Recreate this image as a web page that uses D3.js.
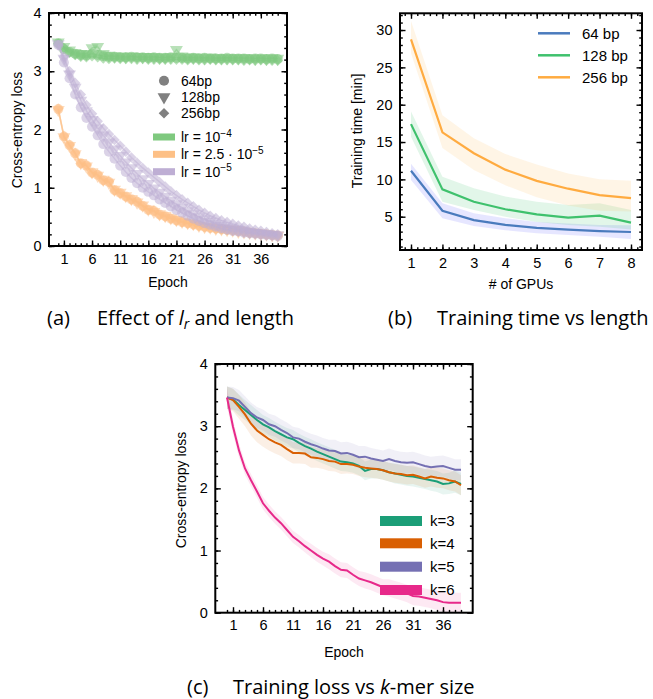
<!DOCTYPE html>
<html><head><meta charset="utf-8">
<script src="https://cdn.jsdelivr.net/npm/d3@7"></script>
<style>
body{margin:0;background:#fff}
svg text{font-family:"Liberation Sans",Arial,sans-serif;fill:#000}
.cap{font-family:"Open Sans",sans-serif !important}
</style>
</head><body>
<svg id="c" width="653" height="699"></svg>
<script>
// ---------- DATA ----------
const epochs = d3.range(40);
const epochTicks = [1,6,11,16,21,26,31,36];
const lossTicks = [0,1,2,3,4];

// Panel (a): lr x length
const a_green_64  = [3.48,3.38,3.33,3.30,3.28,3.27,3.30,3.28,3.26,3.25,3.25,3.24,3.24,3.25,3.24,3.24,3.23,3.24,3.23,3.23,3.24,3.23,3.23,3.22,3.23,3.22,3.23,3.22,3.22,3.22,3.23,3.22,3.22,3.22,3.21,3.22,3.22,3.21,3.22,3.21];
const a_green_128 = [3.50,3.42,3.36,3.32,3.30,3.30,3.40,3.42,3.30,3.27,3.26,3.26,3.25,3.26,3.25,3.25,3.25,3.25,3.24,3.24,3.25,3.37,3.26,3.24,3.24,3.24,3.23,3.24,3.23,3.23,3.23,3.23,3.23,3.23,3.23,3.22,3.23,3.22,3.23,3.22];
const a_green_256 = [3.47,3.40,3.32,3.28,3.25,3.24,3.26,3.24,3.22,3.21,3.22,3.21,3.21,3.21,3.20,3.21,3.20,3.20,3.20,3.20,3.20,3.20,3.20,3.19,3.20,3.19,3.19,3.20,3.19,3.19,3.19,3.19,3.19,3.18,3.19,3.18,3.19,3.18,3.18,3.18];
const a_orange_64  = [2.35,1.88,1.73,1.59,1.42,1.38,1.26,1.22,1.13,1.10,0.96,0.91,0.85,0.80,0.76,0.69,0.62,0.60,0.54,0.51,0.47,0.44,0.41,0.39,0.37,0.35,0.33,0.31,0.30,0.29,0.28,0.27,0.26,0.25,0.23,0.22,0.21,0.20,0.19,0.18];
const a_orange_128 = [2.34,1.87,1.72,1.58,1.43,1.37,1.27,1.21,1.14,1.09,0.97,0.92,0.86,0.81,0.75,0.70,0.63,0.59,0.55,0.52,0.48,0.45,0.42,0.40,0.38,0.35,0.33,0.32,0.30,0.29,0.28,0.27,0.25,0.24,0.23,0.22,0.21,0.20,0.19,0.18];
const a_orange_256 = [2.36,1.89,1.74,1.60,1.41,1.39,1.25,1.23,1.12,1.11,0.95,0.90,0.84,0.79,0.77,0.68,0.62,0.61,0.53,0.50,0.47,0.43,0.41,0.38,0.36,0.34,0.32,0.31,0.29,0.28,0.27,0.26,0.25,0.24,0.22,0.21,0.20,0.19,0.18,0.17];
const a_purple_64  = [3.45,3.15,2.88,2.60,2.38,2.20,2.05,1.90,1.75,1.62,1.50,1.38,1.27,1.17,1.08,1.00,0.93,0.87,0.80,0.74,0.68,0.62,0.57,0.52,0.47,0.43,0.39,0.36,0.33,0.30,0.28,0.26,0.25,0.23,0.22,0.21,0.20,0.19,0.18,0.17];
const a_purple_128 = [3.47,3.22,2.95,2.72,2.50,2.32,2.17,2.02,1.90,1.78,1.66,1.55,1.44,1.34,1.24,1.15,1.07,0.99,0.92,0.85,0.78,0.72,0.66,0.60,0.55,0.50,0.46,0.42,0.38,0.35,0.32,0.30,0.28,0.26,0.24,0.23,0.22,0.21,0.20,0.19];
const a_purple_256 = [3.45,3.25,3.00,2.80,2.60,2.42,2.27,2.14,2.02,1.92,1.82,1.72,1.62,1.52,1.43,1.34,1.26,1.18,1.10,1.02,0.94,0.87,0.80,0.74,0.68,0.62,0.57,0.52,0.48,0.44,0.41,0.38,0.35,0.33,0.30,0.28,0.26,0.24,0.22,0.20];

// Panel (b): training time vs #GPUs
const gpus = [1,2,3,4,5,6,7,8];
const gpuTicks = [1,2,3,4,5,6,7,8];
const timeTicks = [5,10,15,20,25,30];
const b_64     = [11.16,5.80,4.55,3.90,3.50,3.26,3.08,2.95];
const b_64_lo  = [9.90,4.80,3.75,3.20,2.80,2.55,2.30,2.00];
const b_64_hi  = [12.10,6.80,5.45,4.80,4.30,4.10,3.90,3.85];
const b_128    = [17.40,8.66,7.00,6.00,5.30,4.87,5.13,4.20];
const b_128_lo = [15.70,7.00,5.90,5.00,4.30,3.90,3.65,3.30];
const b_128_hi = [19.10,10.35,8.80,7.70,7.00,6.56,6.80,5.90];
const b_256    = [28.75,16.30,13.50,11.30,9.80,8.75,7.90,7.50];
const b_256_lo = [26.90,14.20,11.25,9.20,7.60,6.50,5.80,5.70];
const b_256_hi = [31.20,18.60,15.50,13.40,12.00,10.80,10.00,9.80];

// Panel (c): k-mer size
const c_k3 = [3.46,3.43,3.34,3.26,3.18,3.10,3.03,2.98,2.92,2.87,2.82,2.79,2.73,2.68,2.64,2.59,2.55,2.51,2.47,2.43,2.42,2.40,2.36,2.28,2.31,2.31,2.29,2.26,2.24,2.22,2.20,2.19,2.17,2.15,2.13,2.11,2.07,2.08,2.11,2.07];
const c_k4 = [3.46,3.42,3.31,3.19,3.04,2.93,2.86,2.79,2.74,2.70,2.63,2.57,2.57,2.56,2.50,2.49,2.47,2.44,2.43,2.39,2.39,2.38,2.35,2.33,2.32,2.31,2.29,2.26,2.24,2.23,2.21,2.22,2.19,2.16,2.19,2.17,2.16,2.13,2.11,2.05];
const c_k5 = [3.46,3.45,3.41,3.31,3.21,3.14,3.10,3.03,3.00,2.94,2.89,2.82,2.80,2.75,2.71,2.68,2.64,2.61,2.60,2.56,2.57,2.54,2.50,2.51,2.48,2.46,2.44,2.47,2.44,2.42,2.41,2.42,2.39,2.36,2.34,2.35,2.36,2.33,2.30,2.30];
const c_k6 = [3.46,2.99,2.61,2.32,2.13,1.95,1.76,1.64,1.53,1.44,1.33,1.22,1.15,1.07,1.00,0.93,0.87,0.82,0.75,0.69,0.68,0.61,0.55,0.52,0.49,0.45,0.41,0.40,0.37,0.34,0.31,0.27,0.26,0.24,0.22,0.20,0.17,0.16,0.16,0.16];
const c_k3_sd = [0.18,0.17,0.17,0.16,0.16,0.16,0.15,0.15,0.15,0.15,0.15,0.15,0.15,0.15,0.15,0.15,0.15,0.15,0.15,0.15,0.15,0.15,0.15,0.15,0.15,0.15,0.15,0.15,0.16,0.16,0.16,0.16,0.16,0.16,0.17,0.17,0.17,0.17,0.18,0.18];
const c_k4_sd = [0.18,0.18,0.19,0.19,0.19,0.19,0.19,0.18,0.18,0.18,0.18,0.17,0.17,0.17,0.17,0.16,0.16,0.16,0.16,0.16,0.15,0.15,0.15,0.15,0.15,0.15,0.15,0.15,0.15,0.15,0.15,0.15,0.15,0.15,0.16,0.16,0.16,0.16,0.16,0.16];
const c_k5_sd = [0.18,0.18,0.17,0.17,0.17,0.17,0.17,0.17,0.17,0.17,0.17,0.17,0.17,0.17,0.17,0.17,0.17,0.17,0.18,0.18,0.18,0.18,0.18,0.17,0.17,0.17,0.17,0.17,0.17,0.17,0.17,0.17,0.17,0.17,0.17,0.17,0.17,0.17,0.17,0.17];
const c_k6_sd = [0.15,0.12,0.11,0.10,0.10,0.10,0.10,0.10,0.10,0.10,0.10,0.10,0.10,0.10,0.11,0.11,0.11,0.12,0.12,0.12,0.12,0.12,0.12,0.13,0.13,0.13,0.13,0.14,0.14,0.14,0.14,0.15,0.15,0.15,0.15,0.16,0.16,0.16,0.16,0.16];

// ---------- HELPERS ----------
const FT = 14.5;   // tick label size
const FA = 14;     // axis label size
const FL = 15;     // legend size (b, c)
const FLA = 14;    // legend size (a)
const svg = d3.select("#c");
svg.append("rect").attr("width",653).attr("height",699).attr("fill","#fff");

function frame(g, x, y, xMaj, xMin, yMaj, yMin){
  const [x0,x1] = x.range(), [y1,y0] = y.range();
  const mk = (ax, vals, size, fmt) => ax.tickValues(vals).tickSize(size).tickPadding(7.5).tickFormat(fmt);
  const none = () => "";
  const axes = [
    [d3.axisBottom(x), xMin, -2.8, none, `translate(0,${y1})`],
    [d3.axisBottom(x), xMaj, -5.5, d3.format("d"), `translate(0,${y1})`],
    [d3.axisTop(x), xMin, -2.8, none, `translate(0,${y0})`],
    [d3.axisTop(x), xMaj, -5.5, none, `translate(0,${y0})`],
    [d3.axisLeft(y), yMin, -2.8, none, `translate(${x0},0)`],
    [d3.axisLeft(y), yMaj, -5.5, d3.format("d"), `translate(${x0},0)`],
    [d3.axisRight(y), yMin, -2.8, none, `translate(${x1},0)`],
    [d3.axisRight(y), yMaj, -5.5, none, `translate(${x1},0)`]
  ];
  axes.forEach(([ax, vals, size, fmt, tr]) => {
    const a = g.append("g").attr("transform", tr).call(mk(ax, vals, size, fmt));
    a.select(".domain").remove();
    a.selectAll(".tick line").attr("stroke","#000").attr("stroke-width",1.4);
    a.selectAll(".tick text").attr("font-size",FT).attr("font-family","Liberation Sans, Arial, sans-serif");
  });
  g.append("rect").attr("x",x0).attr("y",y0).attr("width",x1-x0).attr("height",y1-y0)
    .attr("fill","none").attr("stroke","#000").attr("stroke-width",2);
}

// ---------- PANEL (a) ----------
{
  const g = svg.append("g");
  const x = d3.scaleLinear().domain([-1.65,40.65]).range([49,287]);
  const y = d3.scaleLinear().domain([0,4]).range([246,13]);
  const cG="#7fc97f", cO="#fdc086", cP="#beaed4";
  const tri = d3.symbol().type(d3.symbolTriangle).size(72)();
  const circ = d3.symbol().type(d3.symbolCircle).size(80)();
  const sq = d3.symbol().type(d3.symbolSquare).size(56)();
  const shapes = {c:[circ,0], t:[tri,180], d:[sq,45]};
  const series = [
    [a_green_64,cG,"c"],[a_green_128,cG,"t"],[a_green_256,cG,"d"],
    [a_orange_64,cO,"c"],[a_orange_128,cO,"t"],[a_orange_256,cO,"d"],
    [a_purple_64,cP,"c"],[a_purple_128,cP,"t"],[a_purple_256,cP,"d"]
  ];
  const line = d3.line().x((d,i)=>x(epochs[i])).y(d=>y(d));
  series.forEach(([vals,col,sh])=>{
    g.append("path").attr("d",line(vals)).attr("fill","none").attr("stroke",col)
      .attr("stroke-width",1.5).attr("opacity",0.5);
    const [p,rot] = shapes[sh];
    g.selectAll(null).data(vals).enter().append("path").attr("d",p)
      .attr("transform",(d,i)=>`translate(${x(epochs[i])},${y(d)}) rotate(${rot})`)
      .attr("fill",col).attr("opacity",0.55);
  });
  frame(g, x, y, epochTicks, epochs, lossTicks, d3.range(0,4.01,0.2));
  g.append("text").attr("x",168).attr("y",287).attr("text-anchor","middle").attr("font-size",FA).text("Epoch");
  g.append("text").attr("transform","translate(22,130) rotate(-90)").attr("text-anchor","middle").attr("font-size",FA).text("Cross-entropy loss");
  // legend
  const lg = g.append("g");
  const mk = [["c","64bp",80.7],["t","128bp",97],["d","256bp",113.3]];
  mk.forEach(([sh,t,yy])=>{
    const [p,rot]=shapes[sh];
    lg.append("path").attr("d",p).attr("transform",`translate(164,${yy}) rotate(${rot})`).attr("fill","#808080");
    lg.append("text").attr("x",181).attr("y",yy+5).attr("font-size",FLA).text(t);
  });
  const pt = [[cG,137,["lr = 10","−4"]],[cO,154.3,["lr = 2.5 · 10","−5"]],[cP,171.7,["lr = 10","−5"]]];
  pt.forEach(([col,yy,parts])=>{
    lg.append("rect").attr("x",153).attr("y",yy-3.5).attr("width",22).attr("height",7).attr("fill",col);
    const t = lg.append("text").attr("x",181).attr("y",yy+5).attr("font-size",FLA);
    t.append("tspan").text(parts[0]);
    t.append("tspan").attr("dy",-5.5).attr("font-size",10).text(parts[1]);
  });
}

// ---------- PANEL (b) ----------
{
  const g = svg.append("g");
  const x = d3.scaleLinear().domain([0.65,8.35]).range([400,642]);
  const y = d3.scaleLinear().domain([0.54,32.24]).range([250,13.3]);
  const sets = [
    [b_64,b_64_lo,b_64_hi,"#4a7bbd","#7373ff",0.18,"64 bp"],
    [b_128,b_128_lo,b_128_hi,"#3fc16d","#3fc16d",0.15,"128 bp"],
    [b_256,b_256_lo,b_256_hi,"#ffab40","#ffbb55",0.15,"256 bp"]
  ];
  sets.forEach(([m,lo,hi,col,fc,op])=>{
    const area = d3.area().x((d,i)=>x(gpus[i])).y0((d,i)=>y(lo[i])).y1((d,i)=>y(hi[i]));
    g.append("path").attr("d",area(m)).attr("fill",fc).attr("opacity",op);
  });
  sets.forEach(([m,lo,hi,col])=>{
    const line = d3.line().x((d,i)=>x(gpus[i])).y(d=>y(d));
    g.append("path").attr("d",line(m)).attr("fill","none").attr("stroke",col).attr("stroke-width",2.2);
  });
  frame(g, x, y, gpuTicks, d3.range(0.8,8.4,0.2), timeTicks, d3.range(1,33,1));
  g.append("text").attr("x",521).attr("y",289).attr("text-anchor","middle").attr("font-size",FA).text("# of GPUs");
  g.append("text").attr("transform","translate(362,131) rotate(-90)").attr("text-anchor","middle").attr("font-size",FA).text("Training time [min]");
  sets.forEach(([m,lo,hi,col,fc,op,lab],i)=>{
    const yy = 33.3 + i*22;
    g.append("line").attr("x1",538).attr("x2",570).attr("y1",yy).attr("y2",yy).attr("stroke",col).attr("stroke-width",2.5);
    g.append("text").attr("x",582).attr("y",yy+5.3).attr("font-size",FL).text(lab);
  });
}

// ---------- PANEL (c) ----------
{
  const g = svg.append("g");
  const x = d3.scaleLinear().domain([-1.95,40.95]).range([215.3,472.7]);
  const y = d3.scaleLinear().domain([0,4]).range([612.7,364]);
  const sets = [
    [c_k3,c_k3_sd,"#1b9e77","k=3"],
    [c_k4,c_k4_sd,"#d95f02","k=4"],
    [c_k5,c_k5_sd,"#7570b3","k=5"],
    [c_k6,c_k6_sd,"#e7298a","k=6"]
  ];
  sets.forEach(([m,sd,col])=>{
    const area = d3.area().x((d,i)=>x(epochs[i])).y0((d,i)=>y(m[i]-sd[i])).y1((d,i)=>y(m[i]+sd[i]));
    g.append("path").attr("d",area(m)).attr("fill",col).attr("opacity",0.1);
  });
  sets.forEach(([m,sd,col])=>{
    const line = d3.line().x((d,i)=>x(epochs[i])).y(d=>y(d));
    g.append("path").attr("d",line(m)).attr("fill","none").attr("stroke",col).attr("stroke-width",2);
  });
  frame(g, x, y, epochTicks, epochs, lossTicks, d3.range(0,4.01,0.2));
  g.append("text").attr("x",344).attr("y",657).attr("text-anchor","middle").attr("font-size",FA).text("Epoch");
  g.append("text").attr("transform","translate(186,490) rotate(-90)").attr("text-anchor","middle").attr("font-size",FA).text("Cross-entropy loss");
  sets.forEach(([m,sd,col,lab],i)=>{
    const yy = [521,543.3,566.7,590][i];
    g.append("rect").attr("x",380).attr("y",yy-5).attr("width",42).attr("height",10).attr("fill",col);
    g.append("text").attr("x",430).attr("y",yy+5.3).attr("font-size",FL).text(lab);
  });
}

// ---------- CAPTIONS ----------
function caption(xl, xt, yb, parts){
  svg.append("text").attr("class","cap").attr("x",xl).attr("y",yb).attr("font-size",20).text(parts[0]);
  const t = svg.append("text").attr("class","cap").attr("x",xt).attr("y",yb).attr("font-size",20);
  parts.slice(1).forEach(p=>{
    const s = t.append("tspan").text(p.t);
    if(p.i) s.attr("font-style","italic");
    if(p.sub) s.attr("font-size",14).attr("dy",4);
    if(p.back) s.attr("dy",-4);
  });
}
caption(47, 97, 325, ["(a)", {t:"Effect of "},{t:"l",i:true},{t:"r",i:true,sub:true},{t:" and length",back:true}]);
caption(388, 437, 325, ["(b)", {t:"Training time vs length"}]);
caption(187, 233, 694, ["(c)", {t:"Training loss vs "},{t:"k",i:true},{t:"-mer size"}]);
</script>
</body></html>
